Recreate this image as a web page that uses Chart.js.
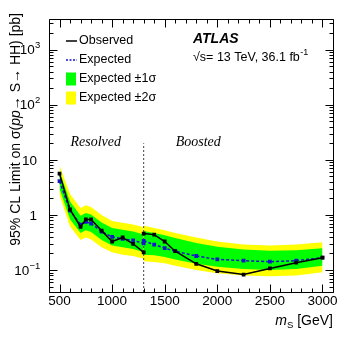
<!DOCTYPE html>
<html><head><meta charset="utf-8">
<script src="https://cdn.jsdelivr.net/npm/chart.js@4"></script>
<style>html,body{margin:0;padding:0;background:#fff;}canvas{display:block;}</style>
</head><body>
<canvas id="c" width="351" height="341"></canvas>
<script>
// ---- data ----
const resolvedMass     = [500, 600, 700, 750, 800, 900, 1000, 1100, 1200, 1300];
const resolvedObserved = [5.6, 1.26, 0.61, 0.83, 0.83, 0.52, 0.33, 0.39, 0.30, 0.21];
const resolvedExpected = [4.1, 1.2, 0.67, 0.75, 0.70, 0.50, 0.40, 0.37, 0.345, 0.305];
const resolvedPlus1    = [6.2, 1.75, 0.97, 1.09, 1.02, 0.73, 0.58, 0.54, 0.50, 0.44];
const resolvedMinus1   = [3.0, 0.84, 0.47, 0.53, 0.49, 0.35, 0.28, 0.26, 0.24, 0.21];
const resolvedPlus2    = [7.8, 2.4, 1.34, 1.5, 1.4, 1.0, 0.78, 0.72, 0.67, 0.60];
const resolvedMinus2   = [2.3, 0.62, 0.35, 0.39, 0.36, 0.26, 0.21, 0.19, 0.18, 0.16];

const boostedMass      = [1300, 1400, 1500, 1600, 1800, 2000, 2250, 2500, 2750, 3000];
const boostedObserved  = [0.46, 0.44, 0.33, 0.22, 0.13, 0.096, 0.083, 0.107, 0.136, 0.168];
const boostedExpected  = [0.34, 0.29, 0.25, 0.22, 0.18, 0.156, 0.148, 0.142, 0.148, 0.168];
const boostedPlus1     = [0.51, 0.47, 0.43, 0.38, 0.31, 0.265, 0.235, 0.225, 0.23, 0.25];
const boostedMinus1    = [0.19, 0.185, 0.172, 0.155, 0.13, 0.115, 0.105, 0.10, 0.105, 0.12];
const boostedPlus2     = [0.64, 0.58, 0.53, 0.47, 0.39, 0.33, 0.29, 0.28, 0.29, 0.32];
const boostedMinus2    = [0.145, 0.14, 0.133, 0.12, 0.10, 0.088, 0.080, 0.077, 0.080, 0.091];

const boundaryMass = [1300, 1300];
const boundaryLimit = [0.04, 20];

const xTickValues = [500, 1000, 1500, 2000, 2500, 3000];
const xTickLabels = ['500', '1000', '1500', '2000', '2500', '3000'];
const yTickValues = [0.1, 1, 10, 100, 1000];
const yTickBases = ['10', '1', '10', '10', '10'];
const yTickExponents = ['\u22121', '', '', '2', '3'];
const legendLabels = ['Observed', 'Expected', 'Expected \u00B11\u03C3', 'Expected \u00B12\u03C3'];
const regionLabels = ['Resolved', 'Boosted'];

// ---- styles ----
const FONT = "'Liberation Sans', Arial, Helvetica, sans-serif";
const BLUE = '#1616c8', GREEN = '#00ff00', YELLOW = '#ffff00';
const X_MIN = 400, X_MAX = 3100, Y_MIN = 0.04, Y_MAX = 3600;

const zip = (xs, ys) => xs.map((x, i) => ({x, y: ys[i]}));

function band(mass, vals, color, target, order) {
  return {data: zip(mass, vals), borderWidth: 0, pointRadius: 0, backgroundColor: color,
          borderColor: 'rgba(0,0,0,0)', fill: target === null ? false : {target}, order, tension: 0};
}

const datasets = [
  {label: legendLabels[0], data: zip(resolvedMass, resolvedObserved), borderColor: '#000', backgroundColor: '#000',
   borderWidth: 1.5, pointRadius: 1.6, pointStyle: 'rect', fill: false, order: 0},
  {label: legendLabels[0], data: zip(boostedMass, boostedObserved), borderColor: '#000', backgroundColor: '#000',
   borderWidth: 1.5, pointRadius: 1.6, pointStyle: 'rect', fill: false, order: 0},
  {label: legendLabels[1], data: zip(resolvedMass, resolvedExpected), borderColor: BLUE, backgroundColor: BLUE,
   borderWidth: 1.5, borderDash: [3, 2], pointRadius: 1.6, pointStyle: 'rect', fill: false, order: 1},
  {label: legendLabels[1], data: zip(boostedMass, boostedExpected), borderColor: BLUE, backgroundColor: BLUE,
   borderWidth: 1.5, borderDash: [3, 2], pointRadius: 1.6, pointStyle: 'rect', fill: false, order: 1},
  band(resolvedMass, resolvedPlus1, GREEN, 5, 3),
  band(resolvedMass, resolvedMinus1, GREEN, null, 3),
  band(boostedMass, boostedPlus1, GREEN, 7, 3),
  band(boostedMass, boostedMinus1, GREEN, null, 3),
  band(resolvedMass, resolvedPlus2, YELLOW, 9, 4),
  band(resolvedMass, resolvedMinus2, YELLOW, null, 4),
  band(boostedMass, boostedPlus2, YELLOW, 11, 4),
  band(boostedMass, boostedMinus2, YELLOW, null, 4),
  {data: zip(boundaryMass, boundaryLimit), borderColor: '#444', borderWidth: 1, borderDash: [2, 2],
   pointRadius: 0, fill: false, order: 2}
];

const crisp = v => Math.round(v) + 0.5;

const decor = {
  id: 'decor',
  afterDatasetsDraw(chart) {
    const {ctx, chartArea: a, scales: {x, y}} = chart;
    const L = crisp(a.left), R = crisp(a.right), T = crisp(a.top), B = crisp(a.bottom);
    ctx.save();
    ctx.strokeStyle = '#000'; ctx.lineWidth = 1;
    ctx.beginPath();
    ctx.rect(L, T, R - L, B - T);
    for (let v = 400; v <= X_MAX; v += 100) {
      const px = crisp(x.getPixelForValue(v));
      const len = v % 500 === 0 ? 8 : 4;
      ctx.moveTo(px, B); ctx.lineTo(px, B - len);
      ctx.moveTo(px, T); ctx.lineTo(px, T + len);
    }
    for (let d = -2; d <= 3; d++) {
      for (let k = 1; k <= 9; k++) {
        const v = k * Math.pow(10, d);
        if (v < Y_MIN || v > Y_MAX) continue;
        const py = crisp(y.getPixelForValue(v));
        const len = k === 1 ? 8 : 4;
        ctx.moveTo(L, py); ctx.lineTo(L + len, py);
        ctx.moveTo(R, py); ctx.lineTo(R - len, py);
      }
    }
    ctx.stroke();

    // y tick labels with superscripts
    ctx.fillStyle = '#000';
    ctx.textBaseline = 'middle';
    ctx.textAlign = 'left';
    yTickValues.forEach((v, i) => {
      const py = y.getPixelForValue(v);
      const base = yTickBases[i], exp = yTickExponents[i];
      ctx.font = '13.5px ' + FONT;
      const wb = ctx.measureText(base).width;
      ctx.font = '9.5px ' + FONT;
      const we = exp ? ctx.measureText(exp).width : 0;
      const right = exp ? 40 : 37;
      const x0 = right - wb - we;
      ctx.font = '13.5px ' + FONT;
      ctx.fillText(base, x0, py + 1);
      if (exp) { ctx.font = '9.5px ' + FONT; ctx.fillText(exp, x0 + wb + 0.3, py - 4); }
    });

    // legend
    ctx.font = '12.5px ' + FONT;
    const lx = 66, tx = 79, rows = [41, 60, 79, 98];
    ctx.lineWidth = 1.5; ctx.strokeStyle = '#000';
    ctx.beginPath(); ctx.moveTo(lx, rows[0]); ctx.lineTo(lx + 11, rows[0]); ctx.stroke();
    ctx.strokeStyle = BLUE; ctx.setLineDash([2, 1.5]);
    ctx.beginPath(); ctx.moveTo(lx, rows[1]); ctx.lineTo(lx + 11, rows[1]); ctx.stroke();
    ctx.setLineDash([]);
    ctx.fillStyle = GREEN; ctx.fillRect(lx, rows[2] - 6.5, 10, 13);
    ctx.fillStyle = YELLOW; ctx.fillRect(lx, rows[3] - 6.5, 10, 13);
    ctx.fillStyle = '#000';
    legendLabels.forEach((t, i) => ctx.fillText(t, tx, rows[i]));

    // ATLAS label
    ctx.font = 'italic bold 14px ' + FONT;
    ctx.fillText('ATLAS', 193, 39);
    ctx.font = '12.5px ' + FONT;
    const s1 = '\u221As= 13 TeV, 36.1 fb';
    ctx.fillText(s1, 193, 58);
    const w1 = ctx.measureText(s1).width;
    ctx.font = '9px ' + FONT;
    ctx.fillText('-1', 193 + w1 + 0.5, 53);

    // region labels
    ctx.font = 'italic 14px "Liberation Serif", "Times New Roman", serif';
    ctx.fillText(regionLabels[0], x.getPixelForValue(500) + 11, 142);
    ctx.fillText(regionLabels[1], x.getPixelForValue(1300) + 32, 142);

    // x title
    ctx.font = '14px ' + FONT;
    const gev = ' [GeV]';
    const wG = ctx.measureText(gev).width;
    ctx.font = '9.5px ' + FONT;
    const wS = ctx.measureText('S').width;
    ctx.font = 'italic 14px ' + FONT;
    const wM = ctx.measureText('m').width;
    let xs = 333 - wG - wS - wM;
    ctx.fillText('m', xs, 321); xs += wM;
    ctx.font = '9.5px ' + FONT; ctx.fillText('S', xs, 325); xs += wS;
    ctx.font = '14px ' + FONT; ctx.fillText(gev, xs, 321);

    // y title (rotated)
    ctx.save();
    ctx.translate(16, 13);
    ctx.rotate(-Math.PI / 2);
    const parts = [['95% CL Limit on \u03C3(', ''], ['pp', 'italic '], ['\u2192 S\u2192 HH) [pb]', '']];
    let total = 0;
    parts.forEach(p => { ctx.font = p[1] + '14px ' + FONT; total += ctx.measureText(p[0]).width; });
    let px = -total;
    parts.forEach(p => { ctx.font = p[1] + '14px ' + FONT; ctx.fillText(p[0], px, 0); px += ctx.measureText(p[0]).width; });
    ctx.restore();

    ctx.restore();
  }
};

Chart.defaults.font.family = FONT;
Chart.defaults.color = '#000';

new Chart(document.getElementById('c'), {
  type: 'line',
  data: {datasets},
  options: {
    responsive: false, animation: false, devicePixelRatio: 1,
    layout: {padding: {left: 9, right: 18, top: 19, bottom: 29}},
    plugins: {legend: {display: false}, tooltip: {enabled: false}},
    scales: {
      x: {
        type: 'linear', min: X_MIN, max: X_MAX,
        grid: {display: false, drawTicks: false}, border: {display: false},
        afterBuildTicks: s => { s.ticks = xTickValues.map(v => ({value: v})); },
        afterFit: s => { s.height = 20; },
        ticks: {font: {size: 13.5}, padding: 1, maxRotation: 0, autoSkip: false, color: '#000',
                callback: (v) => { const i = xTickValues.indexOf(v); return i >= 0 ? xTickLabels[i] : ''; }}
      },
      y: {
        type: 'logarithmic', min: Y_MIN, max: Y_MAX,
        grid: {display: false, drawTicks: false}, border: {display: false},
        afterBuildTicks: s => { s.ticks = yTickValues.map(v => ({value: v})); },
        afterFit: s => { s.width = 40; },
        ticks: {display: false}
      }
    }
  },
  plugins: [decor]
});
</script>
</body></html>
